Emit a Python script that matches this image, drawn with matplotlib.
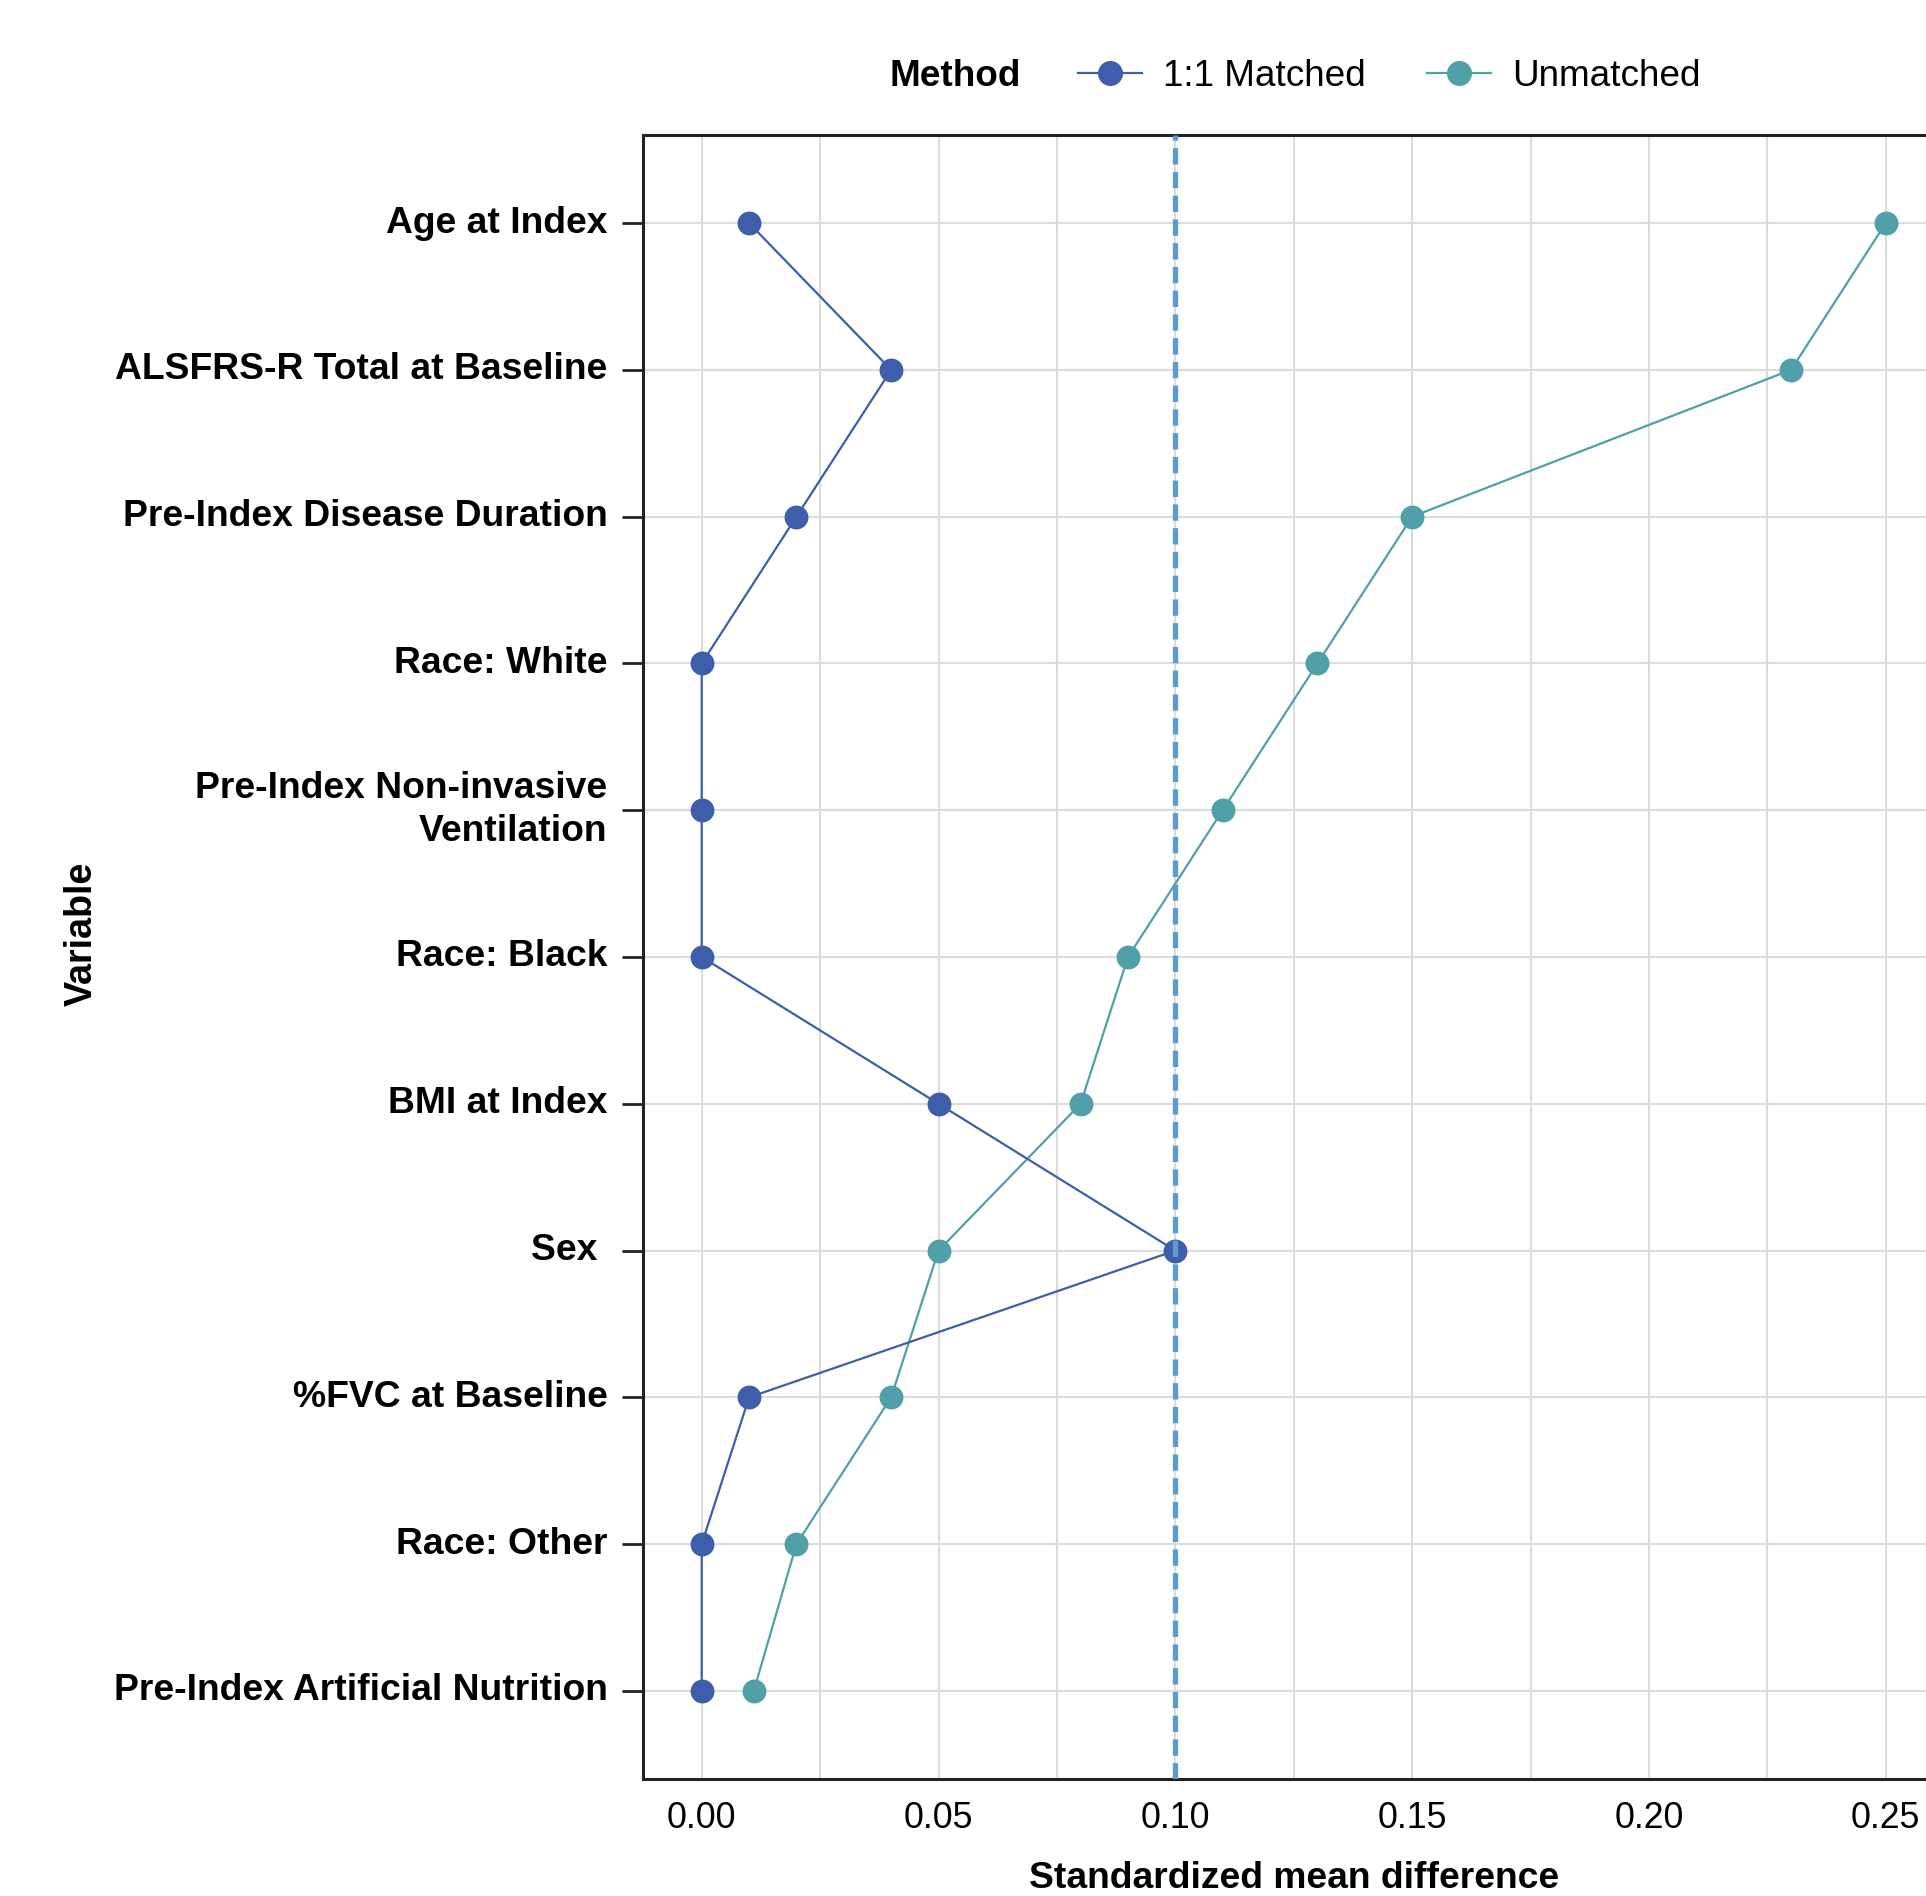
import numpy as np
import matplotlib
matplotlib.use("Agg")
import matplotlib.pyplot as plt
from matplotlib.lines import Line2D

plt.rcParams['font.family'] = ['Liberation Sans', 'DejaVu Sans']

variables = [
    "Age at Index",
    "ALSFRS-R Total at Baseline",
    "Pre-Index Disease Duration",
    "Race: White",
    "Pre-Index Non-invasive\nVentilation",
    "Race: Black",
    "BMI at Index",
    "Sex ",
    "%FVC at Baseline",
    "Race: Other",
    "Pre-Index Artificial Nutrition",
]
smd_matched = [0.01, 0.04, 0.02, 0.00, 0.00, 0.00, 0.05, 0.10, 0.01, 0.00, 0.00]
smd_unmatched = [0.25, 0.23, 0.15, 0.13, 0.11, 0.09, 0.08, 0.05, 0.04, 0.02, 0.011]
x_ticks = [0.00, 0.05, 0.10, 0.15, 0.20, 0.25]
threshold = 0.10

c_matched = "#3E5EAB"
c_unmatched = "#519FA8"
c_thresh = "#5B9BD2"

W, H = 1926, 1896
fig = plt.figure(figsize=(W / 200, H / 200), dpi=200)
# axes runs past the right edge, as in the reference
ax = fig.add_axes([642.5 / W, 1 - 1779 / H, (1945 - 642.5) / W, (1779 - 135) / H])

y = np.arange(len(variables))

ax.plot(smd_matched, y, color=c_matched, lw=0.8, marker="o", ms=8.6,
        markeredgewidth=0, zorder=4)
ax.plot(smd_unmatched, y, color=c_unmatched, lw=0.8, marker="o", ms=8.6,
        markeredgewidth=0, zorder=3)
ax.axvline(threshold, color=c_thresh, lw=1.9, dashes=(3.1, 1.4), zorder=5)

ax.set_xlim(-0.0125, 0.2625)
ax.set_ylim(len(variables) - 1 + 0.6, -0.6)

ax.set_xticks(x_ticks)
ax.set_xticklabels([f"{t:.2f}" for t in x_ticks])
ax.set_xticks([0.025, 0.075, 0.125, 0.175, 0.225], minor=True)
ax.set_yticks(y)
ax.set_yticklabels(variables, fontweight="bold", fontsize=13.4,
                   linespacing=1.3, va="center")

ax.grid(True, which="both", color="#DCDCDC", lw=0.75, zorder=0)
ax.set_axisbelow(True)

ax.tick_params(axis="y", length=7.6, width=1.0, pad=5, color="#222222")
ax.tick_params(axis="x", which="both", length=0, pad=8, labelsize=12.9)

for s in ["left", "top", "bottom", "right"]:
    ax.spines[s].set_linewidth(1.1)
    ax.spines[s].set_color("#222222")

ax.set_xlabel("Standardized mean difference", fontweight="bold",
              fontsize=13.4, labelpad=9)

fig.text(82 / W, 1 - 934 / H, "Variable", rotation=90, ha="center",
         va="center", fontweight="bold", fontsize=13.6)

# legend across the top
fig.text(889 / W, 1 - 76 / H, "Method", ha="left", va="center",
         fontweight="bold", fontsize=13.3)
handles = [
    Line2D([], [], color=c_matched, lw=0.8, marker="o", ms=9, markeredgewidth=0),
    Line2D([], [], color=c_unmatched, lw=0.8, marker="o", ms=9, markeredgewidth=0),
]
fig.legend(handles, ["1:1 Matched", "Unmatched"], loc="center left",
           bbox_to_anchor=(1078 / W, 1 - 76 / H), ncol=2, frameon=False,
           fontsize=13.3, handlelength=1.73, handletextpad=0.57,
           columnspacing=1.65, borderpad=0, borderaxespad=0)

fig.savefig("out.png", dpi=200)
